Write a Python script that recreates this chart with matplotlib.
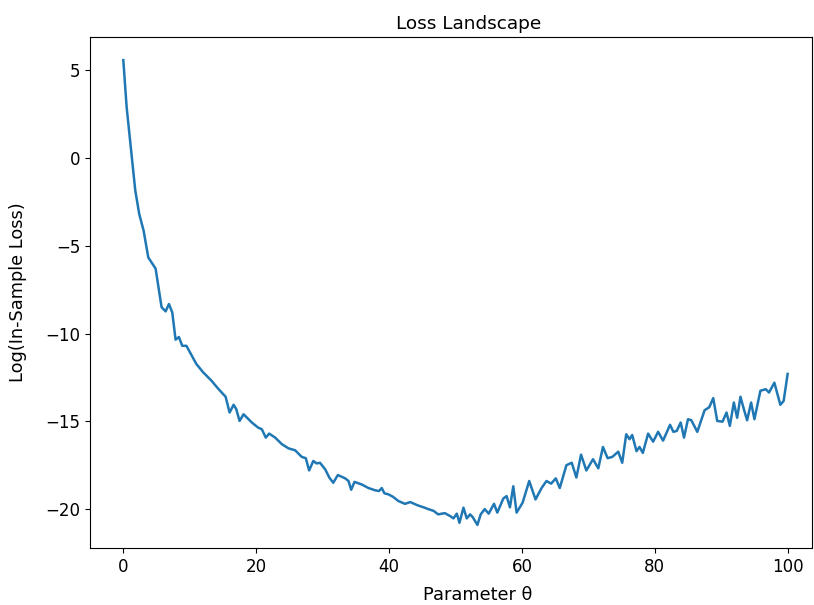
import matplotlib
matplotlib.use("Agg")
import matplotlib.pyplot as plt

# values
theta = [0.0, 0.5, 1.8, 2.4, 3.05, 3.76, 4.86, 5.76, 6.37, 6.87, 7.37, 7.87, 8.37,
         8.87, 9.5, 11.0, 12.0, 13.3, 14.3, 15.4, 16.0, 16.6, 17.0, 17.5, 18.1,
         19.35, 20.3, 20.85, 21.45, 21.95, 22.86, 23.86, 24.86, 25.86, 26.87,
         27.47, 27.97, 28.6, 29.1, 29.6, 30.4, 31.0, 31.6, 32.3, 33.4, 33.9, 34.3,
         34.8, 35.9, 36.9, 37.9, 38.5, 38.9, 39.3, 39.9, 40.6, 41.4, 42.4, 43.2,
         44.2, 45.2, 45.9, 46.7, 47.4, 48.4, 49.2, 49.7, 50.2, 50.6, 51.2, 51.7,
         52.2, 52.6, 53.3, 53.8, 54.4, 55.0, 55.8, 56.3, 57.2, 57.7, 58.2, 58.7,
         59.2, 60.1, 61.1, 62.05, 62.96, 63.7, 64.4, 65.1, 65.7, 66.7, 67.5, 68.2,
         68.9, 69.7, 70.7, 71.5, 72.2, 72.9, 73.6, 74.5, 75.1, 75.7, 76.2, 76.6,
         77.25, 77.7, 78.2, 79.0, 79.75, 80.5, 81.25, 82.3, 82.8, 83.3, 83.9, 84.4,
         85.0, 85.5, 86.4, 87.5, 88.2, 88.8, 89.4, 90.2, 90.8, 91.3, 91.9, 92.4,
         92.9, 93.4, 93.9, 94.5, 95.0, 95.9, 96.7, 97.2, 98.0, 98.9, 99.4, 100.0]
log_loss = [5.57, 2.9, -1.85, -3.2, -4.13, -5.67, -6.3, -8.5, -8.74, -8.32, -8.8,
            -10.35, -10.2, -10.7, -10.7, -11.74, -12.2, -12.7, -13.15, -13.6, -14.5,
            -14.06, -14.3, -14.98, -14.6, -15.07, -15.36, -15.45, -15.93, -15.7,
            -15.93, -16.3, -16.54, -16.65, -17.03, -17.1, -17.8, -17.26, -17.4,
            -17.36, -17.74, -18.2, -18.5, -18.06, -18.25, -18.4, -18.9, -18.45,
            -18.6, -18.8, -18.93, -18.97, -18.8, -19.1, -19.16, -19.3, -19.54,
            -19.7, -19.6, -19.77, -19.9, -20.0, -20.1, -20.3, -20.23, -20.4,
            -20.53, -20.26, -20.78, -19.92, -20.53, -20.3, -20.46, -20.9, -20.3,
            -20.0, -20.26, -19.7, -20.2, -19.4, -19.26, -19.9, -18.7, -20.2,
            -19.64, -18.4, -19.45, -18.8, -18.4, -18.55, -18.25, -18.8, -17.5,
            -17.36, -18.2, -16.9, -17.8, -17.16, -17.68, -16.46, -17.1, -17.03,
            -16.73, -17.36, -15.74, -16.02, -15.78, -16.7, -16.46, -16.8, -15.7,
            -16.16, -15.6, -16.1, -15.2, -15.6, -15.55, -15.07, -15.93, -14.88,
            -14.94, -15.6, -14.37, -14.2, -13.68, -14.98, -15.02, -14.5, -15.26,
            -13.93, -14.8, -13.6, -14.3, -14.94, -13.93, -14.88, -13.26, -13.17,
            -13.36, -12.8, -14.06, -13.84, -12.3]

plt.rcParams['font.size'] = 12

fig, ax = plt.subplots(figsize=(8.14, 6.05), dpi=100)
fig.subplots_adjust(left=0.111, right=0.997, bottom=0.094, top=0.939)

ax.plot(theta, log_loss, color='#1f77b4', linewidth=1.8)
ax.set_xlim(-4.96, 103.6)
ax.set_title('Loss Landscape', fontsize=13.3, x=0.525)
ax.set_xlabel('Parameter θ', fontsize=12.8)
ax.set_ylabel('Log(In-Sample Loss)', fontsize=12.8)
ax.xaxis.set_label_coords(0.537, -0.074)
ax.yaxis.set_label_coords(-0.088, 0.5)

fig.savefig('out.png')
